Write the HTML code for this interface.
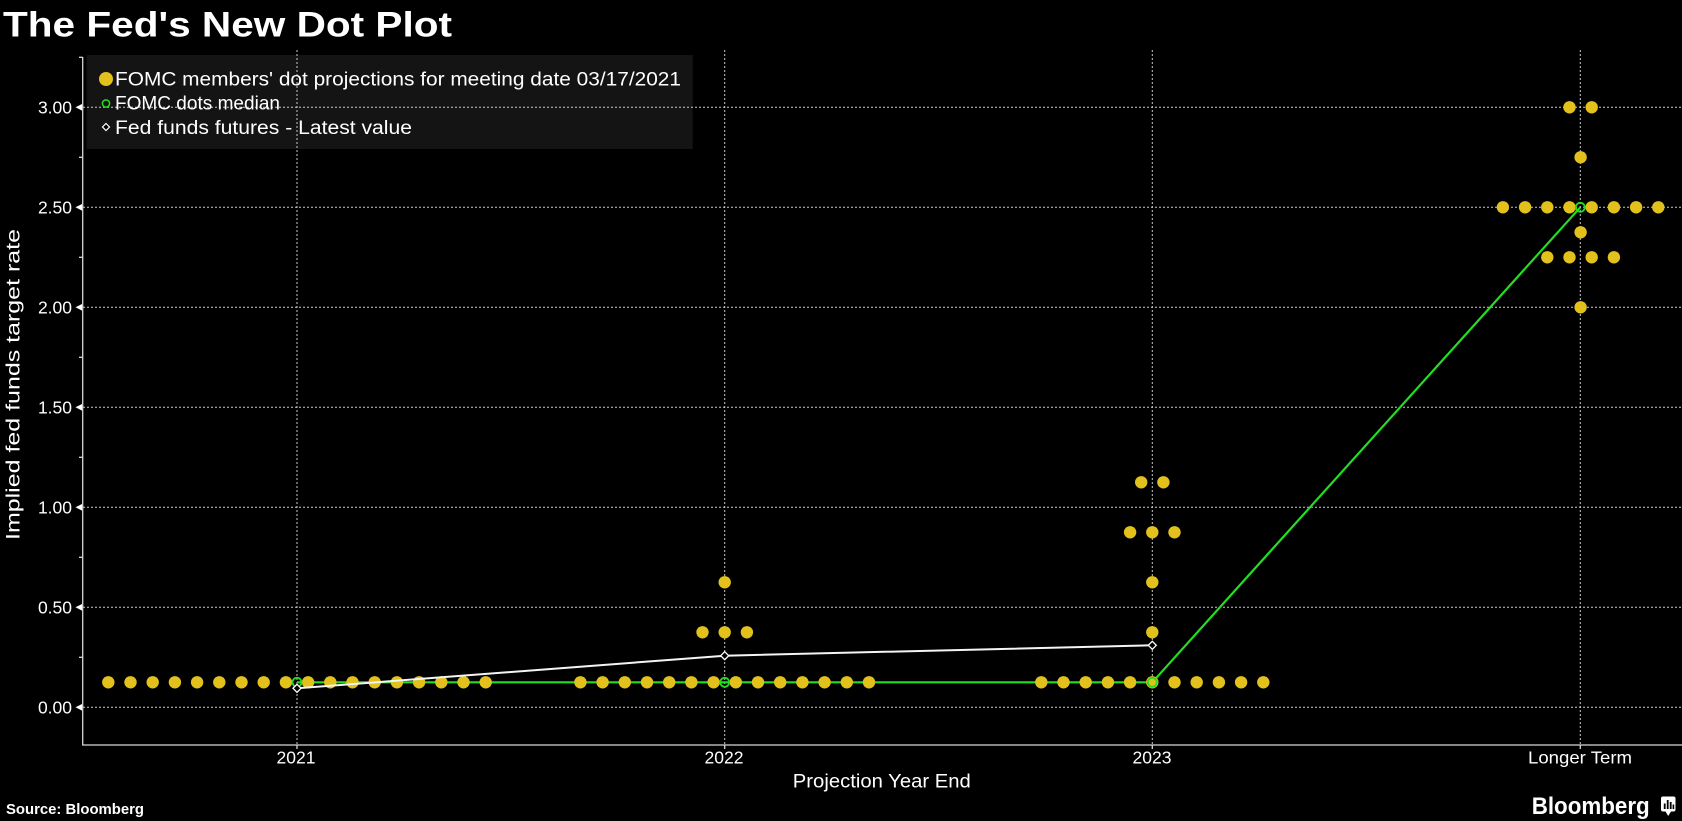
<!DOCTYPE html>
<html>
<head>
<meta charset="utf-8">
<style>
html,body{margin:0;padding:0;background:#000;}
svg{display:block;}
text{font-family:"Liberation Sans",sans-serif;fill:#fff;}
</style>
</head>
<body>
<svg width="1682" height="821" viewBox="0 0 1682 821" xmlns="http://www.w3.org/2000/svg">
<rect x="0" y="0" width="1682" height="821" fill="#000"/>

<!-- Title -->
<text x="3" y="36.7" font-size="35" font-weight="bold" textLength="449" lengthAdjust="spacingAndGlyphs">The Fed's New Dot Plot</text>

<!-- Legend background -->
<rect x="86.7" y="55" width="606" height="94" fill="#141414"/>

<!-- Horizontal gridlines -->
<g stroke="#c8c8c8" stroke-width="1" stroke-dasharray="2 2">
<line x1="83" y1="707.3" x2="1682" y2="707.3"/>
<line x1="83" y1="607.3" x2="1682" y2="607.3"/>
<line x1="83" y1="507.3" x2="1682" y2="507.3"/>
<line x1="83" y1="407.3" x2="1682" y2="407.3"/>
<line x1="83" y1="307.3" x2="1682" y2="307.3"/>
<line x1="83" y1="207.3" x2="1682" y2="207.3"/>
<line x1="83" y1="107.3" x2="1682" y2="107.3"/>
<!-- vertical -->
<line x1="297" y1="50" x2="297" y2="745"/>
<line x1="724.7" y1="50" x2="724.7" y2="745"/>
<line x1="1152.3" y1="50" x2="1152.3" y2="745"/>
<line x1="1580.3" y1="50" x2="1580.3" y2="745"/>
</g>

<!-- Axes -->
<g stroke="#d8d8d8" stroke-width="1.3">
<line x1="82.7" y1="57" x2="82.7" y2="745.5"/>
<line x1="82.2" y1="745" x2="1682" y2="745"/>
<!-- minor ticks -->
<line x1="79" y1="657.3" x2="82.7" y2="657.3"/>
<line x1="79" y1="557.3" x2="82.7" y2="557.3"/>
<line x1="79" y1="457.3" x2="82.7" y2="457.3"/>
<line x1="79" y1="357.3" x2="82.7" y2="357.3"/>
<line x1="79" y1="257.3" x2="82.7" y2="257.3"/>
<line x1="79" y1="157.3" x2="82.7" y2="157.3"/>
<line x1="79" y1="57.3" x2="82.7" y2="57.3"/>
<!-- x ticks -->
<line x1="297" y1="745" x2="297" y2="749"/>
<line x1="724.7" y1="745" x2="724.7" y2="749"/>
<line x1="1152.3" y1="745" x2="1152.3" y2="749"/>
<line x1="1580.3" y1="745" x2="1580.3" y2="749"/>
</g>
<!-- major tick triangles -->
<g fill="#fff">
<polygon points="75.5,707.3 82,704 82,710.6"/>
<polygon points="75.5,607.3 82,604 82,610.6"/>
<polygon points="75.5,507.3 82,504 82,510.6"/>
<polygon points="75.5,407.3 82,404 82,410.6"/>
<polygon points="75.5,307.3 82,304 82,310.6"/>
<polygon points="75.5,207.3 82,204 82,210.6"/>
<polygon points="75.5,107.3 82,104 82,110.6"/>
</g>

<!-- Y tick labels -->
<g font-size="17.5" text-anchor="end">
<text x="72" y="713.6">0.00</text>
<text x="72" y="613.6">0.50</text>
<text x="72" y="513.6">1.00</text>
<text x="72" y="413.6">1.50</text>
<text x="72" y="313.6">2.00</text>
<text x="72" y="213.6">2.50</text>
<text x="72" y="113.6">3.00</text>
</g>

<!-- X tick labels -->
<g font-size="17.5" text-anchor="middle">
<text x="296" y="763.3">2021</text>
<text x="724" y="763.3">2022</text>
<text x="1152" y="763.3">2023</text>
<text x="1580" y="763.3" textLength="104" lengthAdjust="spacingAndGlyphs">Longer Term</text>
</g>

<!-- Axis titles -->
<text x="881.8" y="787.3" font-size="19.5" text-anchor="middle" textLength="178" lengthAdjust="spacingAndGlyphs">Projection Year End</text>
<text transform="translate(19.5,384.5) rotate(-90)" x="0" y="0" font-size="19.5" text-anchor="middle" textLength="311" lengthAdjust="spacingAndGlyphs">Implied fed funds target rate</text>

<!-- Median line (green) -->
<polyline points="297,682.3 724.7,682.3 1152.3,682.3 1580.3,207.3" fill="none" stroke="#22dd22" stroke-width="2.2"/>

<!-- Dots -->
<g fill="#e2c11c">
<!-- 2021 -->
<circle cx="108.3" cy="682.3" r="6.2"/><circle cx="130.5" cy="682.3" r="6.2"/><circle cx="152.7" cy="682.3" r="6.2"/><circle cx="174.9" cy="682.3" r="6.2"/><circle cx="197.1" cy="682.3" r="6.2"/><circle cx="219.3" cy="682.3" r="6.2"/><circle cx="241.5" cy="682.3" r="6.2"/><circle cx="263.7" cy="682.3" r="6.2"/><circle cx="285.9" cy="682.3" r="6.2"/>
<circle cx="308.1" cy="682.3" r="6.2"/><circle cx="330.3" cy="682.3" r="6.2"/><circle cx="352.5" cy="682.3" r="6.2"/><circle cx="374.7" cy="682.3" r="6.2"/><circle cx="396.9" cy="682.3" r="6.2"/><circle cx="419.1" cy="682.3" r="6.2"/><circle cx="441.3" cy="682.3" r="6.2"/><circle cx="463.5" cy="682.3" r="6.2"/><circle cx="485.7" cy="682.3" r="6.2"/>
<!-- 2022 -->
<circle cx="580.4" cy="682.3" r="6.2"/><circle cx="602.6" cy="682.3" r="6.2"/><circle cx="624.8" cy="682.3" r="6.2"/><circle cx="647.0" cy="682.3" r="6.2"/><circle cx="669.2" cy="682.3" r="6.2"/><circle cx="691.4" cy="682.3" r="6.2"/><circle cx="713.6" cy="682.3" r="6.2"/>
<circle cx="735.8" cy="682.3" r="6.2"/><circle cx="758.0" cy="682.3" r="6.2"/><circle cx="780.2" cy="682.3" r="6.2"/><circle cx="802.4" cy="682.3" r="6.2"/><circle cx="824.6" cy="682.3" r="6.2"/><circle cx="846.8" cy="682.3" r="6.2"/><circle cx="869.0" cy="682.3" r="6.2"/>
<circle cx="702.5" cy="632.3" r="6.2"/><circle cx="724.7" cy="632.3" r="6.2"/><circle cx="746.9" cy="632.3" r="6.2"/>
<circle cx="724.7" cy="582.3" r="6.2"/>
<!-- 2023 -->
<circle cx="1041.3" cy="682.3" r="6.2"/><circle cx="1063.5" cy="682.3" r="6.2"/><circle cx="1085.7" cy="682.3" r="6.2"/><circle cx="1107.9" cy="682.3" r="6.2"/><circle cx="1130.1" cy="682.3" r="6.2"/><circle cx="1152.3" cy="682.3" r="6.2"/><circle cx="1174.5" cy="682.3" r="6.2"/><circle cx="1196.7" cy="682.3" r="6.2"/><circle cx="1218.9" cy="682.3" r="6.2"/><circle cx="1241.1" cy="682.3" r="6.2"/><circle cx="1263.3" cy="682.3" r="6.2"/>
<circle cx="1152.3" cy="632.3" r="6.2"/>
<circle cx="1152.3" cy="582.3" r="6.2"/>
<circle cx="1130.1" cy="532.3" r="6.2"/><circle cx="1152.3" cy="532.3" r="6.2"/><circle cx="1174.5" cy="532.3" r="6.2"/>
<circle cx="1141.2" cy="482.3" r="6.2"/><circle cx="1163.4" cy="482.3" r="6.2"/>
<!-- Longer term -->
<circle cx="1569.5" cy="107.3" r="6.2"/><circle cx="1591.7" cy="107.3" r="6.2"/>
<circle cx="1580.6" cy="157.3" r="6.2"/>
<circle cx="1502.9" cy="207.3" r="6.2"/><circle cx="1525.1" cy="207.3" r="6.2"/><circle cx="1547.3" cy="207.3" r="6.2"/><circle cx="1569.5" cy="207.3" r="6.2"/><circle cx="1591.7" cy="207.3" r="6.2"/><circle cx="1613.9" cy="207.3" r="6.2"/><circle cx="1636.1" cy="207.3" r="6.2"/><circle cx="1658.3" cy="207.3" r="6.2"/>
<circle cx="1580.6" cy="232.3" r="6.2"/>
<circle cx="1547.3" cy="257.3" r="6.2"/><circle cx="1569.5" cy="257.3" r="6.2"/><circle cx="1591.7" cy="257.3" r="6.2"/><circle cx="1613.9" cy="257.3" r="6.2"/>
<circle cx="1580.6" cy="307.3" r="6.2"/>
</g>

<!-- Fed funds futures line (white) -->
<polyline points="297,688.3 724.7,655.7 1152.3,645.3" fill="none" stroke="#f4f4f4" stroke-width="2"/>

<!-- Median markers -->
<g fill="none" stroke="#22dd22" stroke-width="1.8">
<circle cx="297" cy="682.3" r="4.5"/>
<circle cx="724.7" cy="682.3" r="4.5"/>
<circle cx="1152.3" cy="682.3" r="4.5"/>
<circle cx="1580.3" cy="207.3" r="4.5"/>
</g>

<!-- Futures markers -->
<g fill="#000" stroke="#fff" stroke-width="1.3">
<polygon points="297,684.3 301,688.3 297,692.3 293,688.3"/>
<polygon points="724.7,651.7 728.7,655.7 724.7,659.7 720.7,655.7"/>
<polygon points="1152.3,641.3 1156.3,645.3 1152.3,649.3 1148.3,645.3"/>
</g>

<!-- Legend contents -->
<circle cx="106" cy="79" r="7" fill="#e2c11c"/>
<circle cx="106" cy="103.5" r="3.6" fill="none" stroke="#22dd22" stroke-width="1.5"/>
<polygon points="106,123.5 109.5,127 106,130.5 102.5,127" fill="#000" stroke="#fff" stroke-width="1.2"/>
<g font-size="19">
<text x="115" y="85.3" textLength="566" lengthAdjust="spacingAndGlyphs">FOMC members' dot projections for meeting date 03/17/2021</text>
<text x="115" y="109.5" textLength="165" lengthAdjust="spacingAndGlyphs">FOMC dots median</text>
<text x="115" y="134" textLength="297" lengthAdjust="spacingAndGlyphs">Fed funds futures - Latest value</text>
</g>

<!-- Source -->
<text x="6" y="814" font-size="14.5" font-weight="bold" textLength="138" lengthAdjust="spacingAndGlyphs">Source: Bloomberg</text>

<!-- Bloomberg logo -->
<text x="1531.7" y="814" font-size="24" font-weight="bold" textLength="118" lengthAdjust="spacingAndGlyphs">Bloomberg</text>
<rect x="1661" y="796.5" width="14.5" height="15" rx="2" fill="#fff"/>
<polygon points="1665.5,811.5 1671,811.5 1668.2,816" fill="#fff"/>
<g fill="#000">
<rect x="1663.8" y="803.5" width="1.8" height="5.5"/>
<rect x="1666.8" y="800" width="1.8" height="9"/>
<rect x="1669.8" y="802" width="1.8" height="7"/>
<rect x="1672.6" y="804.5" width="1.6" height="4.5"/>
</g>
</svg>
</body>
</html>
